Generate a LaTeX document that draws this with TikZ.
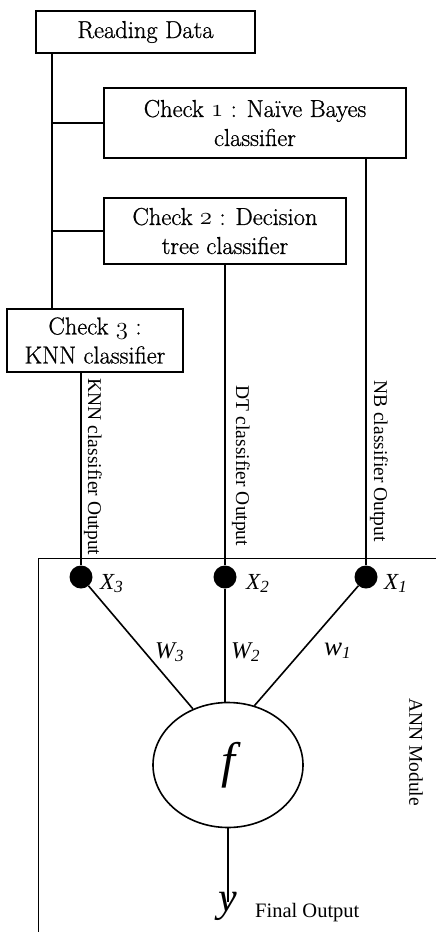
\documentclass[tikz,border=0pt]{standalone}
\usepackage{fontspec}
\newfontfamily\tnr{Liberation Serif}
\newfontfamily\boxfont{Latin Modern Roman}[FakeBold=0.8]
\usetikzlibrary{shapes.geometric}
\newcommand{\osn}[1]{{\usefont{OML}{cmm}{m}{it}#1}}
\newcommand{\xsub}[2]{#1\raisebox{-3pt}{\fontsize{17}{17}\selectfont #2}}
\begin{document}
\begin{tikzpicture}[x=1pt,y=-1pt,
  box/.style={draw, line width=2pt, inner sep=0pt, align=center,
              font=\boxfont\fontsize{24.5}{29}\selectfont},
  wire/.style={line width=2.2pt},
  thin wire/.style={line width=1.6pt},
  dot/.style={circle, fill=black, inner sep=0pt, minimum size=23pt},
  vlab/.style={font=\tnr\fontsize{19.5}{22}\selectfont, rotate=-90, inner sep=0pt},
  xlab/.style={font=\tnr\itshape\fontsize{23}{24}\selectfont, anchor=base west, inner sep=0pt},
  wlab/.style={font=\tnr\itshape\fontsize{24}{24}\selectfont, anchor=base west, inner sep=0pt},
]
\useasboundingbox (0,0) rectangle (436,932);

% boxes
\node[box, minimum width=219pt, minimum height=42pt] (read) at (145.5,32) {Reading Data};
\node[box, minimum width=302pt, minimum height=70pt] (k1) at (255,123)
  {Check \osn{1} : Naïve Bayes\\classifier};
\node[box, minimum width=242pt, minimum height=66pt] (k2) at (225,231)
  {Check \osn{2} : Decision\\tree classifier};
\node[box, minimum width=176pt, minimum height=63pt] (k3) at (95,340.5)
  {Check \osn{3} :\\KNN classifier};

% trunk
\coordinate (trunk) at (52,0);
\draw[wire] (read.south -| trunk) -- (k3.north -| trunk);
\draw[wire] (k1.west -| trunk) -- (k1.west);
\draw[wire] (k2.west -| trunk) -- (k2.west);

% ANN module frame
\draw[line width=1pt] (436,558) -- (38,558) -- (38,932);

% input dots
\node[dot] (x3) at (81,577) {};
\node[dot] (x2) at (225,577) {};
\node[dot] (x1) at (366,577) {};

\draw[wire] (x3 |- k3.south) -- (x3);
\draw[wire] (x2 |- k2.south) -- (x2);
\draw[wire] (x1 |- k1.south) -- (x1);

% rotated output labels
\node[vlab] (lknn) at (93,467) {KNN classifier Output};
\node[vlab] (ldt) at (241,466) {DT classifier Output};
\node[vlab] (lnb) at (379,461) {NB classifier Output};
\node[vlab] (lann) at (416,752) {ANN Module};

% X labels
\node[xlab] (lx3) at (100,589) {\xsub{X}{3}};
\node[xlab] (lx2) at (246,589) {\xsub{X}{2}};
\node[xlab] (lx1) at (384,589) {\xsub{X}{1}};

% neuron
\node[draw, ellipse, line width=1.6pt, minimum width=150pt, minimum height=125pt,
      inner sep=0pt, font=\tnr\itshape\fontsize{50}{50}\selectfont] (fn) at (228,765) {f};

\draw[thin wire] (x3) -- (fn.122);
\draw[thin wire] (x2) -- (x2 |- fn.north);
\draw[thin wire] (x1) -- (fn.66);

% weights
\node[wlab] (w3) at (155,658) {\xsub{W}{3}};
\node[wlab] (w2) at (231,658) {\xsub{W}{2}};
\node[wlab, font=\tnr\itshape\fontsize{27}{27}\selectfont] (w1) at (324,655) {\xsub{w}{1}};

% output
\node[anchor=base, inner sep=0pt, font=\tnr\itshape\fontsize{42}{42}\selectfont] (yn) at (228,911) {y};
\draw[thin wire] (fn.south) -- ([yshift=-10pt]yn.north);
\node[anchor=base west, inner sep=0pt, font=\tnr\fontsize{20.5}{22}\selectfont] (fo) at (255,917) {Final Output};
\end{tikzpicture}
\end{document}
